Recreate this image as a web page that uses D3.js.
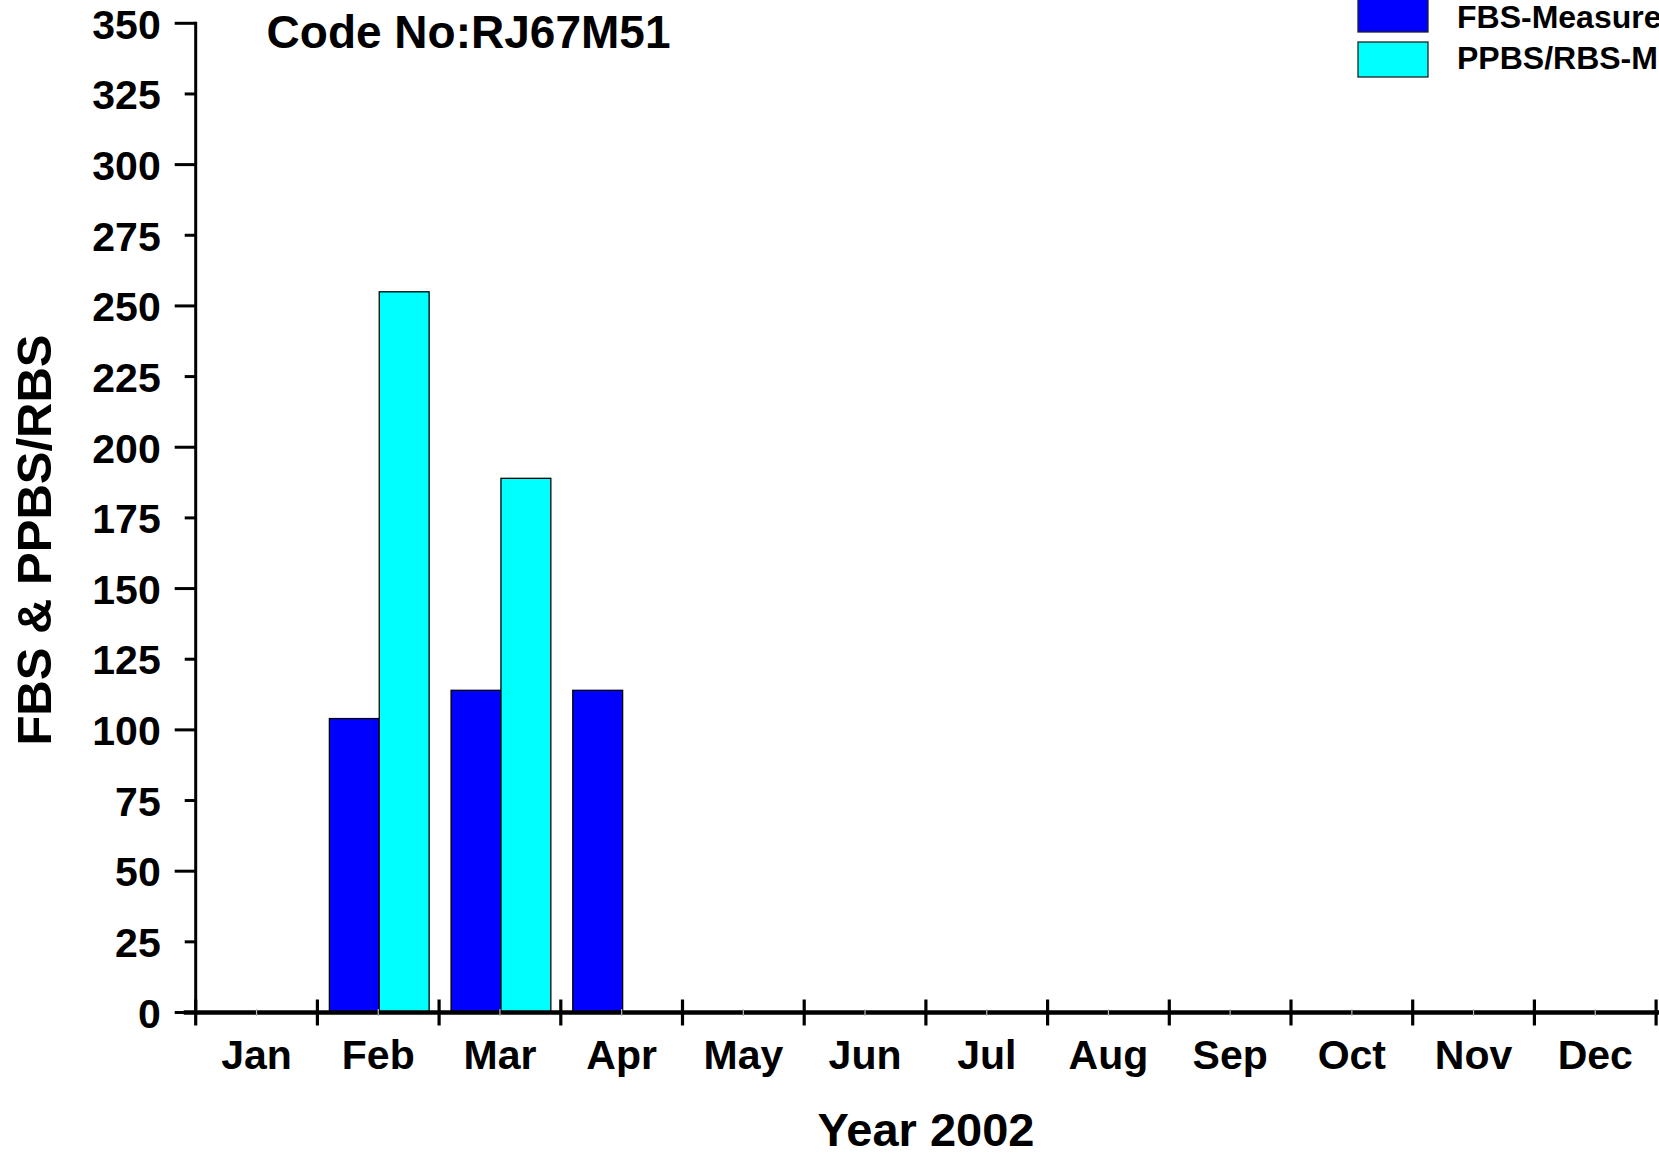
<!DOCTYPE html>
<html><head><meta charset="utf-8">
<script src="https://cdn.jsdelivr.net/npm/d3@7"></script>
<style>
html,body{margin:0;padding:0;background:#fff;overflow:hidden}
text{font-family:"Liberation Sans",Arial,sans-serif;font-weight:bold;fill:#000}
</style></head>
<body>
<svg id="c" width="1659" height="1155"></svg>
<script>
const months = ["Jan","Feb","Mar","Apr","May","Jun","Jul","Aug","Sep","Oct","Nov","Dec"];
const seriesNames = ["FBS-Measured","PPBS/RBS-Measured"];
const fbsValues  = [null,104,114,114,null,null,null,null,null,null,null,null];
const ppbsValues = [null,255,189,null,null,null,null,null,null,null,null,null];
const yTicks = [0,25,50,75,100,125,150,175,200,225,250,275,300,325,350];
const colors = ["#0000ff","#00ffff"];
const titleText = "Code No:RJ67M51";
const xTitle = "Year 2002";
const yTitle = "FBS & PPBS/RBS";

const svg = d3.select("#c");
const x0 = 195.7, x1 = 195.7 + 12*121.7;
const yBottom = 1012.5, yTop = 23.3;

const x = d3.scaleBand().domain(months).range([x0, x1]).paddingInner(0).paddingOuter(0);
const xs = d3.scaleBand().domain(seriesNames).range([0, x.bandwidth()]).paddingInner(0).paddingOuter(0.22);
const y = d3.scaleLinear().domain([0,350]).range([yBottom, yTop]);

// bars
const data = [];
months.forEach((m,i)=>{
  [fbsValues, ppbsValues].forEach((arr,si)=>{
    if(arr[i]!=null) data.push({m, s:seriesNames[si], v:arr[i], c:colors[si]});
  });
});
svg.append("g").attr("transform","translate(1,0)").selectAll("rect").data(data).join("rect")
  .attr("x", d=>x(d.m)+xs(d.s))
  .attr("y", d=>y(d.v))
  .attr("width", xs.bandwidth())
  .attr("height", d=>y(0)-y(d.v))
  .attr("fill", d=>d.c)
  .attr("stroke","#000").attr("stroke-width",1.3);

// y axis line
svg.append("line").attr("x1",x0).attr("x2",x0).attr("y1",yTop-1.5).attr("y2",yBottom)
  .attr("stroke","#000").attr("stroke-width",3);
// y ticks
svg.append("g").selectAll("line").data(yTicks).join("line")
  .attr("x1", d=> d%50===0 ? x0-21 : x0-11).attr("x2", x0)
  .attr("y1", d=>y(d)).attr("y2", d=>y(d))
  .attr("stroke","#000").attr("stroke-width",3);
const yAxis = d3.axisLeft(y).tickValues(yTicks).tickSize(0).tickPadding(0).tickFormat(d3.format("d"));
const gy = svg.append("g").attr("transform",`translate(${x0-35},0)`).call(yAxis);
gy.select(".domain").remove();
gy.selectAll("text").style("font-size","41px").attr("x",0).attr("dy","0.36em")
  .style("font-family",'"Liberation Sans",Arial,sans-serif').style("font-weight","bold").attr("fill","#000");

// x axis line
svg.append("line").attr("x1",x0-12).attr("x2",1665).attr("y1",yBottom).attr("y2",yBottom)
  .attr("stroke","#000").attr("stroke-width",4.5);
// minor ticks (band centres)
svg.append("g").selectAll("line").data(months).join("line")
  .attr("x1", d=>x(d)+x.bandwidth()/2).attr("x2", d=>x(d)+x.bandwidth()/2)
  .attr("y1", yBottom-3.5).attr("y2", yBottom+3.5)
  .attr("stroke","#bbb").attr("stroke-width",1.2);
// major ticks at band edges
const edges = months.map(m=>x(m)).concat([x1]);
svg.append("g").selectAll("line").data(edges).join("line")
  .attr("x1", d=>d).attr("x2", d=>d)
  .attr("y1", yBottom-13).attr("y2", yBottom+13)
  .attr("stroke","#000").attr("stroke-width",3.2);
// month labels
const xAxis = d3.axisBottom(x).tickSize(0).tickPadding(0);
const gx = svg.append("g").attr("transform",`translate(0,${yBottom})`).call(xAxis);
gx.select(".domain").remove();
gx.selectAll("text").style("font-size","41px").attr("y",56.5).attr("dy","0")
  .style("font-family",'"Liberation Sans",Arial,sans-serif').style("font-weight","bold").attr("fill","#000");

// titles
svg.append("text").attr("x",266.6).attr("y",47.5).style("font-size","46px").text(titleText);
svg.append("text").attr("x",926).attr("y",1146).attr("text-anchor","middle").style("font-size","47px").text(xTitle);
svg.append("text").attr("transform","translate(51,540) rotate(-90)").attr("text-anchor","middle")
  .style("font-size","49px").text(yTitle);

// legend
const lg = svg.append("g");
const legY = [-3, 42];
const legBase = [28, 69];
seriesNames.forEach((s,i)=>{
  lg.append("rect").attr("x",1358).attr("y",legY[i]).attr("width",70).attr("height",35)
    .attr("fill",colors[i]).attr("stroke","#222").attr("stroke-width",1.3);
  lg.append("text").attr("x",1457).attr("y",legBase[i]).style("font-size","32px").text(s);
});
</script>
</body></html>
